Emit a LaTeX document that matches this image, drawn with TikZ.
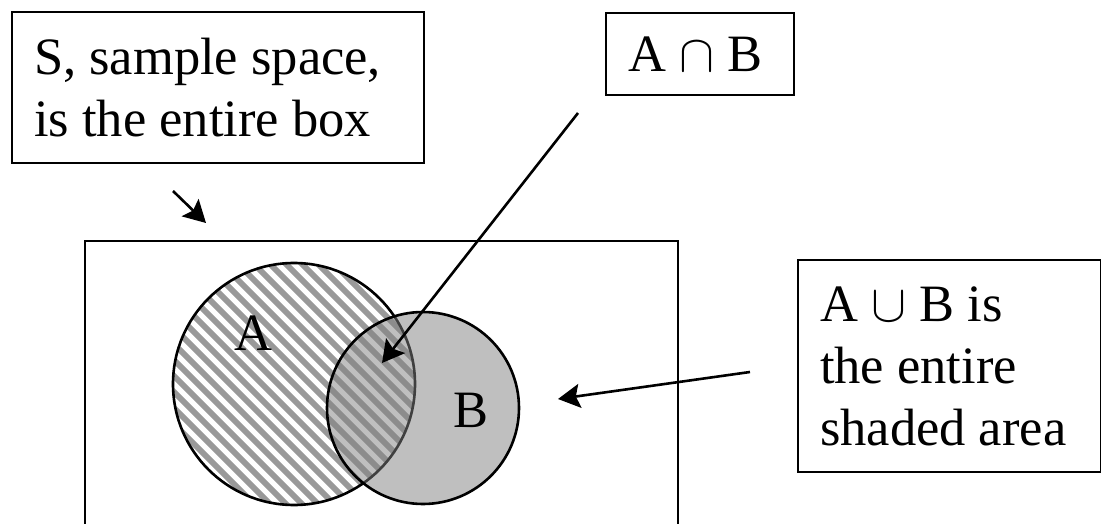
\documentclass[tikz,border=0pt]{standalone}
\usepackage{fontspec}
\setmainfont{Liberation Serif}
\usetikzlibrary{arrows.meta}
\newcommand{\mycap}{{\fontsize{10}{12}\selectfont\scalebox{5.25}{$\cap$}}}
\newcommand{\mycup}{{\fontsize{10}{12}\selectfont\scalebox{5.25}{$\cup$}}}
\newcommand{\fixline}[2]{\makebox[#1][l]{#2}}
\begin{document}
\begin{tikzpicture}[x=1pt,y=-1pt,
  bigfont/.style={font=\fontsize{52.5}{62}\selectfont},
  lbl/.style={draw, line width=2.2pt, align=left, anchor=north west, bigfont, inner xsep=22pt, inner ysep=26pt},
  arr/.style={-{Stealth[length=22pt,width=24pt,inset=4pt]}, line width=2.6pt},
  hatch/.style={draw=gray!80, line width=6pt},
  frame/.style={draw, line width=2.5pt}]
\useasboundingbox (0,0) rectangle (1101,524);
\clip (0,0) rectangle (1101,524);
% sample space box
\draw[frame] (85,241) rectangle (678,540);
% circle A hatching
\begin{scope}
  \clip (294,384) circle (121pt);
  \fill[white] (294,384) circle (121pt);
  \foreach \i in {-30,...,30}
    \draw[hatch] (294+\i*16-250,384-250) -- (294+\i*16+250,384+250);
\end{scope}
\draw[line width=2.6pt] (294,384) circle (121pt);
% circle B
\fill[gray, fill opacity=0.5] (423,408) circle (96pt);
\draw[line width=2.6pt] (423,408) circle (96pt);
\node[bigfont] (la) at (253,333) {A};
\node[bigfont] (lb) at (471,410) {B};
% labels
\node[lbl] (s) at (11,11) {\fixline{368pt}{S, sample space,}\\\fixline{368pt}{is the entire box}};
\node[lbl, inner ysep=23.5pt] (ab) at (605,12) {\fixline{144pt}{A \mycap{} B}};
\node[lbl, inner ysep=26.5pt] (u) at (797,259) {\fixline{259pt}{A \mycup{} B is}\\\fixline{259pt}{the entire}\\\fixline{259pt}{shaded area}};
% arrows
\coordinate (p1s) at (578,113);
\coordinate (p1e) at (382,363);
\coordinate (p2s) at (750,372);
\coordinate (p2e) at (558,399);
\coordinate (p3s) at (173,191);
\coordinate (p3e) at (206,223);
\draw[arr] (p1s) -- (p1e);
\draw[arr] (p2s) -- (p2e);
\draw[arr] (p3s) -- (p3e);
\end{tikzpicture}
\end{document}
